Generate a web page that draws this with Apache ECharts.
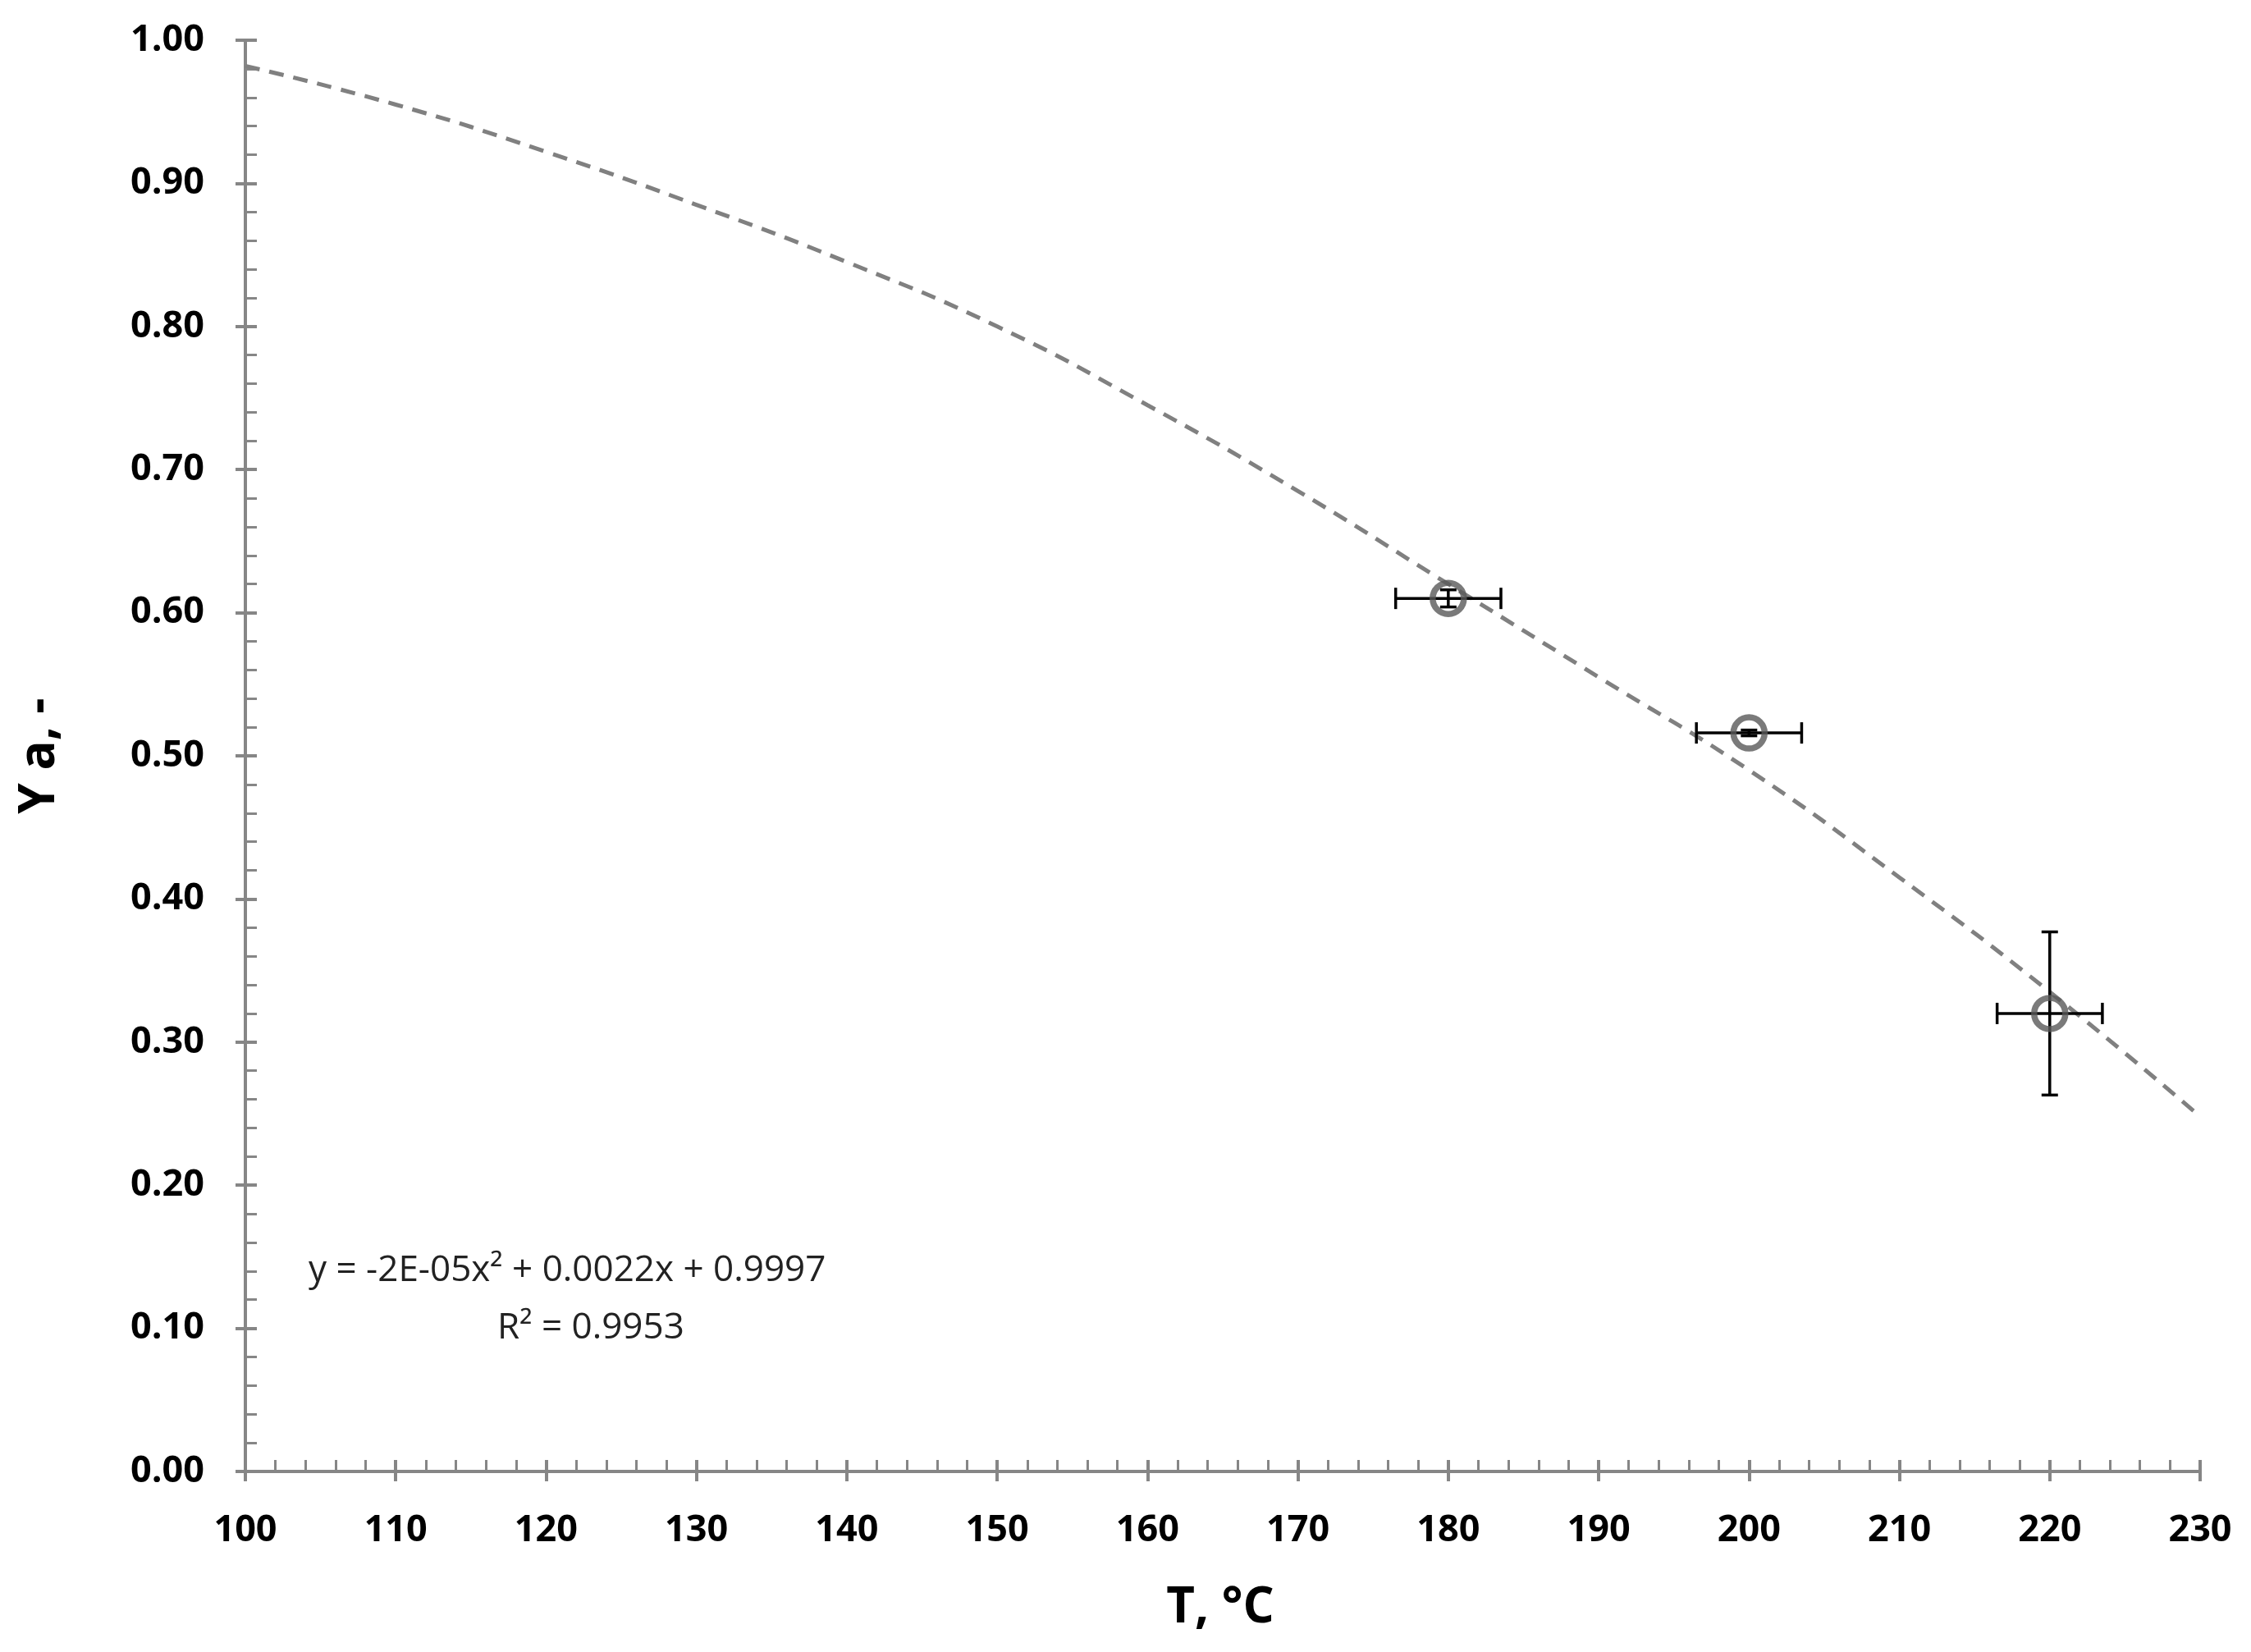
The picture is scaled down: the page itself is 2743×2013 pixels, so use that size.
<!DOCTYPE html>
<html><head><meta charset="utf-8">
<script src="https://cdn.jsdelivr.net/npm/echarts@6/dist/echarts.min.js"></script>
<style>html,body{margin:0;background:#fff}#c{width:2743px;height:2013px}</style>
</head><body><div id="c"></div>
<script>
// trendline values
var fitT = [100, 110, 120, 130, 140, 150, 160, 170, 180, 190, 200, 210, 220, 230];
var fitY = [0.982, 0.955, 0.922, 0.885, 0.845, 0.800, 0.745, 0.685, 0.620, 0.555, 0.490, 0.415, 0.335, 0.248];
// measured points with error bars
var ptT = [180, 200, 220];
var ptY = [0.610, 0.516, 0.320];
var errT = [3.5, 3.5, 3.5];
var errY = [0.006, 0.002, 0.057];

var font = '"Open Sans", sans-serif';
var axisGray = '#868686';
var chart = echarts.init(document.getElementById('c'));

var fitData = fitT.map(function (t, i) { return [t, fitY[i]]; });
var ptData = ptT.map(function (t, i) { return [t, ptY[i], errT[i], errY[i]]; });

function baseX(show) {
  return {
    type: 'value', min: 100, max: 230, interval: 10, gridIndex: 0, position: 'bottom',
    axisLine: { show: show, onZero: false, lineStyle: { color: axisGray, width: 4 } },
    axisTick: { show: true, inside: show, length: show ? 14 : 12, lineStyle: { color: axisGray, width: 4 } },
    minorTick: { show: show, splitNumber: 5, length: 14, lineStyle: { color: axisGray, width: 3 } },
    axisLabel: { show: show, color: '#000', fontWeight: 'bold', fontSize: 45, fontFamily: font, margin: 50 },
    splitLine: { show: false }
  };
}
function baseY(show) {
  return {
    type: 'value', min: 0, max: 1, interval: 0.1, gridIndex: 0, position: 'left',
    axisLine: { show: show, onZero: false, lineStyle: { color: axisGray, width: 4 } },
    axisTick: { show: true, inside: show, length: show ? 14 : 12, lineStyle: { color: axisGray, width: 4 } },
    minorTick: { show: show, splitNumber: 5, length: 14, lineStyle: { color: axisGray, width: 3 } },
    axisLabel: { show: show, color: '#000', fontWeight: 'bold', fontSize: 45, fontFamily: font, margin: 50,
      formatter: function (v) { return v.toFixed(2); } },
    splitLine: { show: false }
  };
}

chart.setOption({
  animation: false,
  backgroundColor: '#fff',
  grid: { left: 299, right: 62, top: 49, bottom: 220, containLabel: false },
  xAxis: [baseX(true), baseX(false)],
  yAxis: [baseY(true), baseY(false)],
  graphic: [
    { type: 'text', left: 376, top: 1526, style: { text: 'y = -2E-05x\u00B2 + 0.0022x + 0.9997', font: '44px ' + font, fill: '#222' } },
    { type: 'text', left: 606, top: 1596, style: { text: 'R\u00B2 = 0.9953', font: '44px ' + font, fill: '#222' } },
    { type: 'text', x: 1487, y: 1960, style: { text: 'T, \u00B0C', font: 'bold 60px ' + font, fill: '#000', align: 'center', verticalAlign: 'middle' } },
    { type: 'text', x: 49, y: 921, rotation: Math.PI / 2, style: { text: 'Y a, -', font: 'bold 60px ' + font, fill: '#000', align: 'center', verticalAlign: 'middle' } }
  ],
  series: [
    {
      type: 'line', data: fitData, smooth: true, showSymbol: false, symbol: 'none',
      lineStyle: { color: '#808080', width: 5, type: [18, 12] }, z: 2
    },
    {
      type: 'custom', data: ptData, z: 3,
      renderItem: function (params, api) {
        var t = api.value(0), y = api.value(1), et = api.value(2), ey = api.value(3);
        var c = api.coord([t, y]);
        var l = api.coord([t - et, y]), r = api.coord([t + et, y]);
        var u = api.coord([t, y + ey]), d = api.coord([t, y - ey]);
        var st = { stroke: '#000', lineWidth: 3.5 };
        var cap = 10;
        return { type: 'group', children: [
          { type: 'line', shape: { x1: l[0], y1: c[1], x2: r[0], y2: c[1] }, style: st },
          { type: 'line', shape: { x1: l[0], y1: c[1] - cap * 1.3, x2: l[0], y2: c[1] + cap * 1.3 }, style: st },
          { type: 'line', shape: { x1: r[0], y1: c[1] - cap * 1.3, x2: r[0], y2: c[1] + cap * 1.3 }, style: st },
          { type: 'line', shape: { x1: c[0], y1: u[1], x2: c[0], y2: d[1] }, style: st },
          { type: 'line', shape: { x1: c[0] - cap, y1: u[1], x2: c[0] + cap, y2: u[1] }, style: st },
          { type: 'line', shape: { x1: c[0] - cap, y1: d[1], x2: c[0] + cap, y2: d[1] }, style: st }
        ] };
      }
    },
    {
      type: 'scatter', data: ptData.map(function (p) { return [p[0], p[1]]; }), symbol: 'circle', symbolSize: 38, z: 4,
      itemStyle: { color: 'rgba(0,0,0,0)', borderColor: '#595959', borderWidth: 7.5 }
    }
  ]
});
</script>
</body></html>
